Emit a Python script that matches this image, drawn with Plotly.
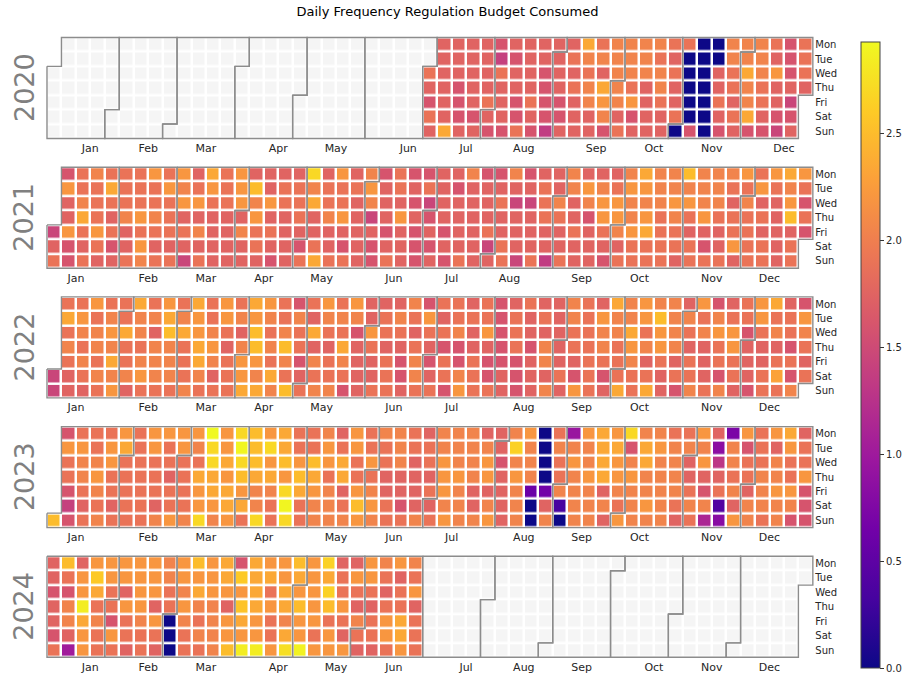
import datetime as dt
import plotly.graph_objects as go

TITLE = "Daily Frequency Regulation Budget Consumed"
FIRST_DAY = dt.date(2020, 7, 1)
LAST_DAY = dt.date(2024, 6, 30)
YEARS = [2020, 2021, 2022, 2023, 2024]
DAY_LABELS = ["Mon", "Tue", "Wed", "Thu", "Fri", "Sat", "Sun"]
MONTH_LABELS = ["Jan", "Feb", "Mar", "Apr", "May", "Jun",
                "Jul", "Aug", "Sep", "Oct", "Nov", "Dec"]
COLORBAR_TICKS = [0.0, 0.5, 1.0, 1.5, 2.0, 2.5]

# Daily budget consumed. One list per weekday and calendar year,
# each in date order (first entry = first such weekday with data that year).
mon_2020 = [1.75, 1.75, 1.75, 1.75, 1.6, 1.75, 1.75, 1.75, 1.75, 1.75, 2.35, 1.9, 2.05, 2.05, 2.05, 2.05, 1.9, 1.9, 0, 0, 2.05, 2.05, 2.05, 1.9, 1.6, 1.9]
tue_2020 = [1.75, 1.75, 1.75, 1.75, 1.4, 1.6, 1.75, 1.75, 1.75, 1.9, 2.05, 2.05, 2.05, 2.05, 2.05, 1.9, 1.75, 0, 0, 0, 2.05, 2.05, 2.05, 1.75, 1.6, 1.9]
wed_2020 = [1.9, 1.75, 1.75, 1.75, 1.75, 1.9, 1.75, 1.75, 1.6, 1.75, 1.75, 1.9, 1.75, 2.05, 2.05, 2.05, 2.05, 1.9, 0, 0, 1.75, 1.9, 2.35, 2.05, 2.2, 1.6, 1.9]
thu_2020 = [1.75, 1.75, 1.6, 1.75, 1.75, 1.75, 1.75, 1.75, 1.6, 1.75, 1.9, 2.05, 2.35, 2.05, 1.9, 1.75, 2.05, 1.75, 0, 0, 1.75, 1.9, 2.05, 1.9, 1.75, 1.75, 1.75]
fri_2020 = [1.6, 1.75, 1.6, 1.75, 1.9, 1.75, 1.6, 1.9, 1.6, 1.6, 1.75, 2.05, 2.2, 2.05, 2.2, 1.75, 1.9, 1.75, 0, 0, 1.9, 1.75, 2.05, 1.9, 1.75, 1.45]
sat_2020 = [1.9, 1.75, 1.6, 1.6, 1.75, 1.75, 1.6, 1.75, 1.6, 1.6, 1.75, 1.75, 2.05, 1.75, 1.6, 1.75, 1.75, 1.9, 0, 0, 1.75, 1.9, 2.35, 1.75, 1.6, 1.6]
sun_2020 = [1.75, 2.35, 1.75, 1.75, 1.6, 1.6, 1.9, 1.6, 1.35, 1.75, 1.75, 1.75, 1.6, 1.9, 1.75, 1.75, 1.75, 0, 1.6, 0, 1.6, 1.75, 1.6, 1.6, 1.45, 1.75]

mon_2021 = [1.6, 1.9, 2.05, 1.9, 1.9, 1.9, 2.2, 1.9, 2.2, 1.75, 2.35, 1.9, 2.2, 1.75, 1.75, 1.75, 1.75, 2.7, 1.75, 2.2, 1.75, 2.05, 1.6, 1.9, 1.6, 1.6,
            1.75, 1.75, 2.05, 1.6, 1.6, 2.05, 1.6, 1.75, 1.75, 2.05, 1.75, 1.75, 1.75, 2.05, 2.35, 2.05, 2.05, 2.5, 2.05, 2.05, 2.05, 2.2, 1.9, 2.2, 2.35, 2.2]
tue_2021 = [2.2, 1.9, 1.9, 2.35, 1.9, 1.9, 1.9, 2.2, 2.05, 1.9, 2.2, 1.9, 2.2, 2.5, 1.75, 1.9, 1.9, 2.05, 1.9, 1.9, 1.9, 2.2, 1.75, 1.9, 1.75, 1.9,
            1.75, 1.6, 1.75, 1.75, 1.75, 1.75, 1.75, 1.9, 1.75, 2.05, 2.2, 2.05, 1.9, 2.2, 2.2, 2.05, 2.05, 2.05, 2.05, 2.05, 1.9, 1.9, 2.2, 1.9, 2.05, 1.9]
wed_2021 = [1.75, 2.05, 1.9, 1.9, 1.9, 1.9, 1.9, 1.9, 2.2, 2.2, 1.9, 1.9, 2.2, 2.05, 2.2, 1.9, 1.9, 2.35, 1.9, 1.9, 1.75, 2.05, 1.75, 1.75, 1.6, 1.45,
            1.75, 1.75, 1.75, 1.75, 1.9, 1.45, 1.45, 1.9, 2.05, 1.75, 2.05, 2.2, 2.2, 2.05, 2.05, 2.05, 2.2, 2.2, 2.05, 2.05, 1.75, 2.05, 1.75, 1.75, 2.2, 1.6]
thu_2021 = [1.75, 2.35, 1.9, 1.75, 2.05, 2.2, 2.05, 1.9, 1.75, 1.75, 1.75, 1.75, 1.75, 2.2, 1.75, 1.75, 1.9, 1.75, 2.05, 2.2, 1.75, 1.45, 1.75, 2.2, 1.75, 1.6,
            1.75, 1.75, 1.75, 1.75, 1.75, 1.75, 1.75, 1.9, 1.9, 1.75, 1.6, 2.2, 2.2, 2.05, 2.2, 1.9, 2.05, 1.9, 2.2, 1.9, 1.9, 1.9, 1.9, 1.75, 2.5, 1.9]
fri_2021 = [1.45, 2.2, 1.9, 2.2, 1.9, 1.75, 1.9, 1.9, 1.9, 1.9, 2.05, 1.75, 1.75, 2.05, 1.9, 1.9, 1.75, 1.75, 1.75, 1.75, 1.75, 1.75, 1.75, 1.6, 1.75, 1.6, 1.75,
            1.6, 1.75, 1.75, 1.9, 1.75, 1.75, 1.75, 1.75, 1.75, 1.9, 1.75, 1.9, 2.05, 2.2, 2.35, 1.9, 1.9, 1.75, 1.75, 1.75, 1.9, 1.9, 1.75, 1.75, 1.75, 1.6]
sat_2021 = [1.75, 1.6, 1.75, 1.9, 1.6, 1.75, 2.2, 1.75, 1.75, 1.75, 1.75, 1.75, 1.75, 1.75, 1.9, 1.75, 1.75, 1.6, 1.9, 1.75, 1.6, 1.75, 1.6, 1.75, 1.75, 1.6, 1.6,
            1.75, 1.75, 1.75, 1.45, 1.9, 1.75, 1.75, 1.75, 1.75, 1.75, 1.75, 1.75, 1.75, 1.9, 1.9, 1.9, 1.9, 1.9, 1.6, 1.75, 2.2, 1.9, 1.9, 1.75, 1.9]
sun_2021 = [1.9, 1.6, 1.9, 1.75, 1.75, 1.9, 2.05, 1.9, 1.9, 1.45, 1.9, 1.75, 1.75, 1.75, 1.75, 1.6, 1.75, 1.9, 2.35, 1.9, 1.9, 1.75, 1.6, 1.9, 1.75, 1.6, 1.75,
            1.6, 1.9, 1.75, 1.75, 1.9, 1.45, 1.9, 1.35, 1.9, 1.75, 1.75, 1.6, 1.9, 1.9, 1.9, 1.9, 1.75, 1.9, 1.9, 1.9, 1.75, 1.9, 1.9, 1.75, 1.9]

mon_2022 = [1.9, 1.9, 2.2, 1.9, 1.9, 2.35, 1.9, 2.2, 1.9, 2.35, 1.9, 2.2, 1.9, 2.35, 2.2, 1.9, 1.6, 1.9, 2.2, 1.9, 2.2, 1.75, 1.75, 1.75, 2.05, 1.6,
            1.9, 1.9, 1.75, 1.9, 1.6, 1.75, 1.9, 1.75, 1.75, 2.05, 1.9, 1.75, 2.35, 2.05, 2.2, 2.05, 2.05, 1.75, 2.2, 1.6, 1.75, 1.9, 2.2, 2.35, 1.75, 1.6]
tue_2022 = [2.35, 2.2, 1.9, 2.05, 1.9, 2.05, 2.05, 2.35, 2.05, 2.2, 1.9, 2.2, 2.05, 2.2, 2.05, 1.9, 2.05, 1.75, 2.05, 2.05, 2.05, 1.75, 1.9, 2.05, 1.9, 2.2,
            1.75, 1.9, 1.9, 1.9, 1.6, 1.9, 1.75, 1.9, 1.75, 2.05, 1.9, 2.2, 2.05, 2.05, 2.2, 2.5, 2.05, 2.05, 1.9, 2.05, 1.9, 1.9, 2.2, 1.9, 1.9, 2.2]
wed_2022 = [1.9, 2.05, 2.05, 2.2, 2.35, 2.05, 1.75, 2.5, 2.35, 2.2, 2.05, 1.9, 1.75, 2.5, 1.9, 2.05, 1.9, 2.35, 1.9, 1.9, 1.6, 2.2, 1.9, 1.9, 1.75, 1.9,
            1.9, 2.05, 1.75, 2.2, 1.6, 1.9, 1.75, 1.75, 1.75, 1.9, 1.9, 2.05, 2.05, 2.35, 1.9, 2.2, 2.05, 1.9, 2.05, 2.2, 2.2, 1.6, 1.9, 2.05, 1.9, 2.05]
thu_2022 = [2.05, 1.9, 2.05, 2.05, 1.9, 1.9, 2.05, 2.05, 1.9, 2.35, 2.2, 1.75, 2.05, 2.5, 2.05, 2.5, 1.9, 1.75, 1.75, 2.35, 1.75, 1.9, 1.75, 1.75, 1.9, 1.75,
            1.6, 1.6, 1.75, 1.75, 1.6, 1.9, 1.6, 2.05, 1.75, 1.9, 1.9, 2.05, 1.9, 2.2, 2.05, 2.2, 2.05, 1.75, 1.75, 1.9, 2.2, 1.75, 1.75, 1.75, 1.6, 1.9]
fri_2022 = [1.9, 2.05, 1.9, 2.35, 1.9, 2.05, 2.05, 2.05, 1.9, 2.35, 2.05, 1.9, 2.2, 2.2, 1.9, 2.05, 1.6, 2.05, 1.9, 2.05, 1.75, 1.75, 1.9, 1.6, 2.05, 1.6,
            1.9, 1.6, 1.9, 1.6, 1.6, 1.6, 1.75, 2.05, 1.75, 1.75, 1.9, 1.9, 1.9, 2.05, 1.75, 1.9, 1.75, 1.9, 1.75, 1.9, 1.9, 1.75, 1.75, 1.9, 1.9, 1.75]
sat_2022 = [1.45, 1.75, 1.9, 2.05, 2.05, 2.05, 2.2, 2.05, 2.05, 1.9, 2.05, 1.75, 1.9, 2.2, 2.05, 2.35, 1.9, 1.75, 1.9, 1.9, 1.9, 1.75, 1.75, 1.9, 1.6, 2.05, 1.75,
            1.9, 2.05, 1.9, 1.6, 1.75, 1.6, 1.75, 1.75, 1.9, 1.6, 1.9, 1.6, 1.9, 1.9, 1.9, 1.75, 1.9, 1.9, 1.75, 1.6, 1.9, 1.75, 1.9, 2.3, 1.6, 1.9]
sun_2022 = [1.45, 1.75, 1.75, 1.9, 2.2, 1.75, 1.9, 1.9, 1.9, 2.05, 1.9, 1.9, 1.9, 2.35, 2.35, 2.05, 2.5, 1.9, 2.05, 2.05, 1.6, 1.75, 1.9, 1.9, 1.75, 1.9, 1.9,
            1.6, 2.2, 1.9, 1.9, 1.75, 1.6, 1.75, 2.05, 1.75, 2.2, 1.9, 1.75, 2.35, 1.9, 2.35, 1.75, 1.6, 2.05, 1.9, 2.05, 1.75, 1.6, 1.9, 1.9, 2.05]

mon_2023 = [1.6, 1.9, 1.9, 1.9, 2.2, 1.9, 2.2, 2.2, 2.2, 2.2, 2.93, 2.2, 2.7, 2.5, 2.2, 2.35, 1.9, 1.9, 2.05, 1.75, 2.2, 1.9, 2.05, 2.05, 1.9, 1.75,
            2.05, 2.05, 2.05, 1.75, 1.75, 2.05, 2.2, 0, 1.9, 0.95, 2.2, 2.35, 2.2, 2.7, 2.05, 2.05, 1.9, 1.9, 2.2, 1.75, 0.72, 2.2, 1.9, 2.2, 2.35, 1.75]
tue_2023 = [2.2, 2.2, 1.9, 2.2, 2.35, 1.9, 2.2, 1.9, 2.2, 2.05, 2.7, 2.2, 2.9, 2.5, 2.7, 2.35, 1.9, 1.9, 2.2, 1.9, 2.2, 1.9, 1.9, 2.05, 1.9, 1.9,
            2.05, 2.05, 2.05, 2.05, 1.75, 2.65, 2.05, 0, 2.05, 2.05, 2.05, 2.35, 2.35, 1.6, 2.35, 2.2, 2.05, 2.05, 2.05, 0.85, 2.05, 1.6, 1.9, 1.75, 2.2, 1.9]
wed_2023 = [1.9, 2.05, 2.05, 2.2, 1.9, 1.9, 1.9, 1.9, 1.9, 1.9, 2.7, 2.35, 2.7, 2.5, 2.2, 2.5, 2.2, 2.5, 2.2, 2.35, 1.9, 2.2, 1.9, 2.05, 1.75, 1.9,
            2.2, 2.05, 2.05, 2.2, 1.6, 2.05, 2.05, 0, 1.9, 2.2, 2.05, 2.35, 2.2, 2.05, 2.35, 2.05, 2.05, 1.75, 2.2, 1.3, 2.05, 1.9, 1.9, 2.05, 1.9, 1.9]
thu_2023 = [1.9, 2.05, 2.2, 1.9, 1.9, 1.9, 1.9, 1.75, 1.9, 2.35, 2.35, 2.2, 2.5, 2.35, 2.35, 2.2, 2.5, 2.35, 1.9, 2.35, 1.9, 1.9, 1.75, 1.75, 1.75, 1.75,
            2.2, 2.2, 2.05, 2.2, 1.75, 2.2, 2.05, 0, 1.9, 2.05, 2.2, 2.35, 2.2, 2.2, 2.05, 2.05, 2.05, 1.75, 1.75, 1.75, 1.9, 1.9, 2.05, 2.05, 1.9, 2.2]
fri_2023 = [1.6, 1.9, 2.05, 1.9, 1.9, 1.9, 1.9, 1.9, 1.9, 2.2, 2.35, 2.35, 2.2, 2.05, 2.05, 2.7, 2.35, 2.2, 2.05, 1.75, 2.2, 2.05, 1.75, 1.75, 1.75, 1.9,
            2.2, 2.05, 1.75, 1.75, 1.75, 2.05, 0.6, 0.65, 2.05, 2.05, 2.05, 1.75, 2.05, 2.05, 2.05, 2.05, 2.05, 1.9, 1.6, 1.9, 2.05, 1.75, 2.05, 2.2, 2.2, 1.6]
sat_2023 = [1.4, 1.75, 1.9, 1.75, 1.9, 1.9, 1.75, 1.9, 1.9, 2.2, 2.2, 2.35, 2.35, 2.05, 1.9, 2.9, 1.9, 2.05, 2.05, 1.9, 2.5, 2.2, 1.9, 1.6, 1.75, 1.75,
            2.05, 2.05, 1.75, 2.05, 1.75, 2.05, 0, 1.75, 0.35, 2.05, 2.05, 2.05, 1.9, 2.05, 2.2, 2.05, 1.9, 2.05, 2.05, 0.42, 1.75, 2.05, 2.05, 2.05, 2.05, 1.6]
sun_2023 = [2.5, 1.6, 1.9, 2.05, 1.9, 1.9, 1.9, 2.05, 2.2, 2.05, 2.7, 2.05, 2.2, 1.9, 2.7, 1.9, 2.7, 1.9, 2.05, 2.05, 2.05, 2.2, 2.05, 1.9, 1.9, 2.05, 1.9,
            2.2, 2.05, 2.05, 2.2, 1.75, 2.05, 0, 2.05, 0, 2.05, 2.05, 1.75, 2.2, 2.05, 2.05, 2.05, 1.75, 1.9, 1.12, 0.82, 2.2, 2.05, 1.9, 2.05, 1.6, 1.6]

mon_2024 = [1.75, 2.5, 1.75, 2.2, 2.2, 2.2, 2.2, 2.2, 2.05, 2.2, 2.5, 2.2, 2.35, 1.6, 2.35, 2.2, 2.2, 2.5, 2.2, 2.65, 1.75, 1.75, 2.2, 2.05, 2.2, 2.05]
tue_2024 = [1.75, 1.9, 2.2, 2.6, 2.2, 2.2, 2.2, 2.2, 2.05, 2.2, 2.2, 2.2, 2.35, 2.6, 2.35, 2.35, 2.2, 2.35, 2.2, 2.35, 1.9, 2.2, 2.2, 1.9, 1.75, 1.9]
wed_2024 = [1.6, 1.6, 2.2, 2.35, 1.9, 1.75, 2.2, 2.2, 1.9, 2.05, 2.35, 2.2, 2.2, 2.2, 2.35, 1.9, 2.35, 2.2, 2.2, 2.65, 1.9, 1.9, 1.9, 1.75, 1.9, 2.2]
thu_2024 = [1.75, 2.05, 2.85, 1.9, 1.9, 2.2, 2.2, 1.75, 1.9, 2.2, 2.05, 2.05, 1.75, 2.55, 2.35, 2.2, 2.35, 2.5, 2.2, 2.5, 2.2, 1.75, 1.75, 1.9, 1.9, 1.75]
fri_2024 = [1.75, 2.05, 2.35, 2.05, 1.6, 1.9, 2.05, 2.2, 0, 2.05, 1.9, 2.05, 2.2, 2.35, 2.2, 1.9, 2.05, 2.2, 2.2, 1.9, 1.9, 2.05, 1.9, 2.2, 2.35, 1.9]
sat_2024 = [1.6, 1.75, 2.2, 1.9, 2.2, 1.9, 1.9, 1.9, 0, 1.9, 2.05, 2.05, 2.2, 2.2, 2.2, 1.9, 2.35, 2.2, 1.9, 2.2, 1.75, 1.9, 1.9, 2.2, 2.35, 1.9]
sun_2024 = [1.9, 1.02, 2.2, 1.9, 1.9, 1.75, 1.9, 1.75, 0, 1.9, 1.9, 2.05, 2.5, 2.85, 2.85, 2.2, 2.75, 2.88, 2.2, 2.2, 2.2, 1.75, 1.75, 1.9, 2.2, 1.9]

WEEKDAY_ROWS = {
    2020: [mon_2020, tue_2020, wed_2020, thu_2020, fri_2020, sat_2020, sun_2020],
    2021: [mon_2021, tue_2021, wed_2021, thu_2021, fri_2021, sat_2021, sun_2021],
    2022: [mon_2022, tue_2022, wed_2022, thu_2022, fri_2022, sat_2022, sun_2022],
    2023: [mon_2023, tue_2023, wed_2023, thu_2023, fri_2023, sat_2023, sun_2023],
    2024: [mon_2024, tue_2024, wed_2024, thu_2024, fri_2024, sat_2024, sun_2024],
}

# ---- page geometry (pixels) ----
FIG_W, FIG_H = 907, 678
FONT = "DejaVu Sans"
N_WEEKS = 53
GRID_LEFT = 47.0
CELL_W = 14.45
CELL_H = 101.0 / 7
ROW_TOP0 = 37.5
ROW_STEP = 129.7
PAD = 0.1  # axis-range padding (in cells) so border lines are not clipped
GAP = 2.5
BORDER_COLOR = "#8c8c8c"
FILL_COLOR = "#f5f5f5"


def days_between(a, b):
    return [a + dt.timedelta(days=i) for i in range((b - a).days + 1)]


def week_col(d):
    jan1 = dt.date(d.year, 1, 1)
    return (d.timetuple().tm_yday - 1 + jan1.weekday()) // 7


# map every observed day to its value
daily = {}
for year, rows in WEEKDAY_ROWS.items():
    start = max(FIRST_DAY, dt.date(year, 1, 1))
    end = min(LAST_DAY, dt.date(year, 12, 31))
    span = days_between(start, end)
    for wd, row in enumerate(rows):
        days = [d for d in span if d.weekday() == wd]
        assert len(days) == len(row), (year, DAY_LABELS[wd], len(days), len(row))
        daily.update(zip(days, row))

vmin = min(daily.values())
vmax = max(daily.values())

fig = go.Figure()
layout_axes = {}

for k, year in enumerate(YEARS):
    idx = "" if k == 0 else str(k + 1)
    xa, ya = "x" + idx, "y" + idx

    z = [[None] * N_WEEKS for _ in range(7)]
    fill = [[None] * N_WEEKS for _ in range(7)]
    for d in days_between(dt.date(year, 1, 1), dt.date(year, 12, 31)):
        c, r = week_col(d), d.weekday()
        if d in daily:
            z[r][c] = daily[d]
        else:
            fill[r][c] = 1

    cols = list(range(N_WEEKS))
    rows_idx = list(range(7))

    fig.add_trace(go.Heatmap(
        x=cols, y=rows_idx, z=fill, xaxis=xa, yaxis=ya,
        colorscale=[[0, FILL_COLOR], [1, FILL_COLOR]], showscale=False,
        xgap=GAP, ygap=GAP, hoverinfo="skip",
    ))
    fig.add_trace(go.Heatmap(
        x=cols, y=rows_idx, z=z, xaxis=xa, yaxis=ya,
        colorscale="Plasma", zmin=vmin, zmax=vmax,
        xgap=GAP, ygap=GAP, hoverongaps=False,
        showscale=(k == 0),
        colorbar=dict(
            thickness=19, thicknessmode="pixels",
            len=626, lenmode="pixels",
            x=861 / FIG_W, xanchor="left", xpad=0,
            y=1 - (42 + 668) / 2 / FIG_H, yanchor="middle", ypad=0,
            outlinewidth=1, outlinecolor="#444444",
            tickvals=COLORBAR_TICKS, tickformat=".1f",
            ticks="outside", ticklen=4, tickwidth=1, tickcolor="#333333",
            tickfont=dict(family=FONT, size=10, color="#262626"),
        ),
    ))

    # month outlines
    bx, by = [], []
    for m in range(1, 13):
        first = dt.date(year, m, 1)
        last = (dt.date(year + (m == 12), m % 12 + 1, 1) - dt.timedelta(days=1))
        x0, r0 = week_col(first), first.weekday()
        x1, r1 = week_col(last), last.weekday()
        pts = [(x0 - 0.5, r0 - 0.5), (x0 + 0.5, r0 - 0.5), (x0 + 0.5, -0.5),
               (x1 + 0.5, -0.5), (x1 + 0.5, r1 + 0.5), (x1 - 0.5, r1 + 0.5),
               (x1 - 0.5, 6.5), (x0 - 0.5, 6.5), (x0 - 0.5, r0 - 0.5)]
        bx += [p[0] for p in pts] + [None]
        by += [p[1] for p in pts] + [None]
    fig.add_trace(go.Scatter(
        x=bx, y=by, xaxis=xa, yaxis=ya, mode="lines",
        line=dict(color=BORDER_COLOR, width=1.4),
        hoverinfo="skip", showlegend=False,
    ))

    # axes placement
    top_px = ROW_TOP0 + k * ROW_STEP
    x_left = GRID_LEFT - PAD * CELL_W
    x_right = GRID_LEFT + N_WEEKS * CELL_W + PAD * CELL_W
    y_top = top_px - PAD * CELL_H
    y_bot = top_px + 7 * CELL_H + PAD * CELL_H

    month_ticks = [dt.date(year, m, 15).isocalendar()[1] - 0.5 for m in range(1, 13)]

    layout_axes["xaxis" + idx] = dict(
        domain=[x_left / FIG_W, x_right / FIG_W], anchor=ya,
        range=[-0.5 - PAD, N_WEEKS - 0.5 + PAD],
        tickvals=month_ticks, ticktext=MONTH_LABELS, ticks="",
        ticklabelstandoff=0,
        tickfont=dict(family=FONT, size=11, color="#262626"),
        showgrid=False, zeroline=False, showline=False, fixedrange=True,
    )
    layout_axes["yaxis" + idx] = dict(
        domain=[1 - y_bot / FIG_H, 1 - y_top / FIG_H], anchor=xa,
        range=[6.5 + PAD, -0.5 - PAD], side="right",
        tickvals=rows_idx, ticktext=DAY_LABELS, ticks="",
        tickfont=dict(family=FONT, size=10, color="#262626"),
        showgrid=False, zeroline=False, showline=False, fixedrange=True,
    )

annotations = []
for k, year in enumerate(YEARS):
    center_px = ROW_TOP0 + k * ROW_STEP + 3.5 * CELL_H
    annotations.append(dict(
        text=str(year), xref="paper", yref="paper",
        x=24 / FIG_W, y=1 - center_px / FIG_H,
        xanchor="center", yanchor="middle", textangle=-90, showarrow=False,
        font=dict(family=FONT, size=27, color="#808080"),
    ))

fig.update_layout(
    width=FIG_W, height=FIG_H, autosize=False,
    margin=dict(l=0, r=0, t=0, b=0),
    paper_bgcolor="white", plot_bgcolor="white",
    title=dict(text=TITLE, x=447.5 / FIG_W, xanchor="center",
               y=1 - 11 / FIG_H, yanchor="middle", yref="container",
               font=dict(family=FONT, size=13, color="#000000")),
    showlegend=False,
    annotations=annotations,
    **layout_axes,
)

fig.write_html("out.html")
